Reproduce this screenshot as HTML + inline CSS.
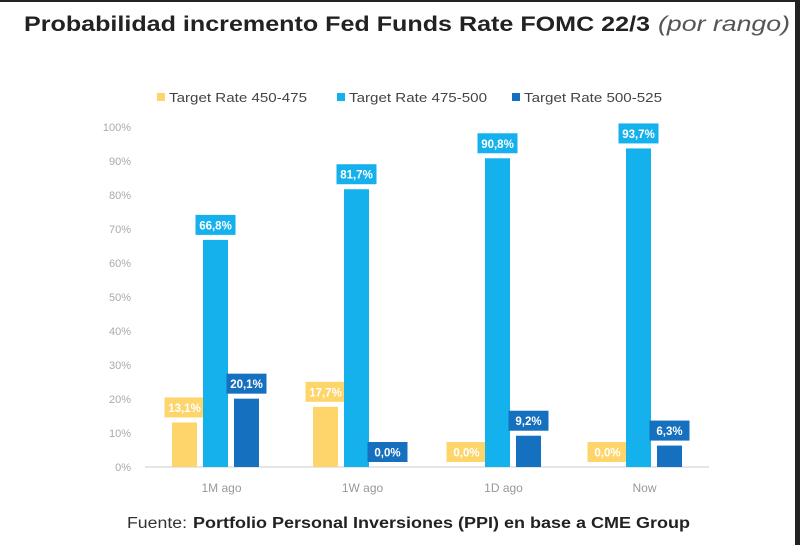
<!DOCTYPE html>
<html><head><meta charset="utf-8"><style>
body{margin:0;width:800px;height:545px;background:#fff;overflow:hidden;font-family:"Liberation Sans",sans-serif;position:relative}
</style></head><body>
<svg width="800" height="545" id="c" style="position:absolute;left:0;top:0">
<rect x="0" y="0" width="800" height="2" fill="#222"/>
<rect x="795" y="0" width="5" height="545" fill="#222"/>
<text x="24" y="31" font-size="21" font-weight="bold" fill="#222" textLength="626" lengthAdjust="spacingAndGlyphs">Probabilidad incremento Fed Funds Rate FOMC 22/3</text>
<text x="658" y="31" font-size="21" font-style="italic" fill="#555" textLength="132" lengthAdjust="spacingAndGlyphs">(por rango)</text>
<text x="127" y="528" font-size="15.5" fill="#333" textLength="60" lengthAdjust="spacingAndGlyphs">Fuente:</text>
<text x="193" y="528" font-size="15.5" font-weight="bold" fill="#222" textLength="497" lengthAdjust="spacingAndGlyphs">Portfolio Personal Inversiones (PPI) en base a CME Group</text>
<g id="legend"></g><g id="axis"></g><g id="bars"></g>
</svg>
<script>
const categories=["1M ago","1W ago","1D ago","Now"];
const seriesNames=["Target Rate 450-475","Target Rate 475-500","Target Rate 500-525"];
const s1=[13.1,17.7,0.0,0.0];
const s2=[66.8,81.7,90.8,93.7];
const s3=[20.1,0.0,9.2,6.3];
const yTicks=[0,10,20,30,40,50,60,70,80,90,100];
const colors=["#FDD56A","#15B1EC","#1570BF"];
const series=[s1,s2,s3];
const NS="http://www.w3.org/2000/svg";
const x0=145,x1=709,y0=467,y100=127;
const band=(x1-x0)/categories.length;
const y=v=>y0+(y100-y0)*v/100;
const xc=i=>x0+band*(i+0.5);
function mk(tag,attrs,parent,txt){const e=document.createElementNS(NS,tag);for(const k in attrs)e.setAttribute(k,attrs[k]);if(txt!==undefined)e.textContent=txt;parent.appendChild(e);return e;}
const ax=document.getElementById('axis'),bg=document.getElementById('bars'),lg=document.getElementById('legend');
yTicks.forEach(t=>{const e=mk('text',{x:131,y:y(t)+4,'text-anchor':'end','font-size':11,fill:'#aaa'},ax,t+'%');

});
const bl=mk('line',{x1:x0,x2:x1,y1:y0,y2:y0,stroke:'#ddd','stroke-width':1.5},ax);


categories.forEach((c,i)=>{const e=mk('text',{x:xc(i)+6,y:492,'text-anchor':'middle','font-size':12,fill:'#999'},ax,c);

});
const bw=25,step=31;
series.forEach((s,k)=>{s.forEach((v,i)=>{
 const cx=xc(i)+(k-1)*step;
 const r=mk('rect',{x:cx-bw/2,y:y(v),width:bw,height:y0-y(v),fill:colors[k]},bg);
 
 
 const ly=y(v)-25;
 const lb=mk('rect',{x:cx-20,y:ly,width:40,height:20,fill:colors[k]},bg);
 
 
 const t=mk('text',{x:cx,y:ly+14.5,'text-anchor':'middle','font-size':11.5,'font-weight':'bold',fill:'#fff'},bg,v.toFixed(1).replace('.',',')+'%');
 
 
});});
const lx=[157,337,512];
seriesNames.forEach((n,k)=>{
 const r=mk('rect',{x:lx[k],y:93,width:8,height:8,fill:colors[k]},lg);
 
 
 const t=mk('text',{x:lx[k]+12,y:102,'font-size':12.5,fill:'#444',textLength:138,lengthAdjust:'spacingAndGlyphs'},lg,n);
 
 
});
</script>
</body></html>
